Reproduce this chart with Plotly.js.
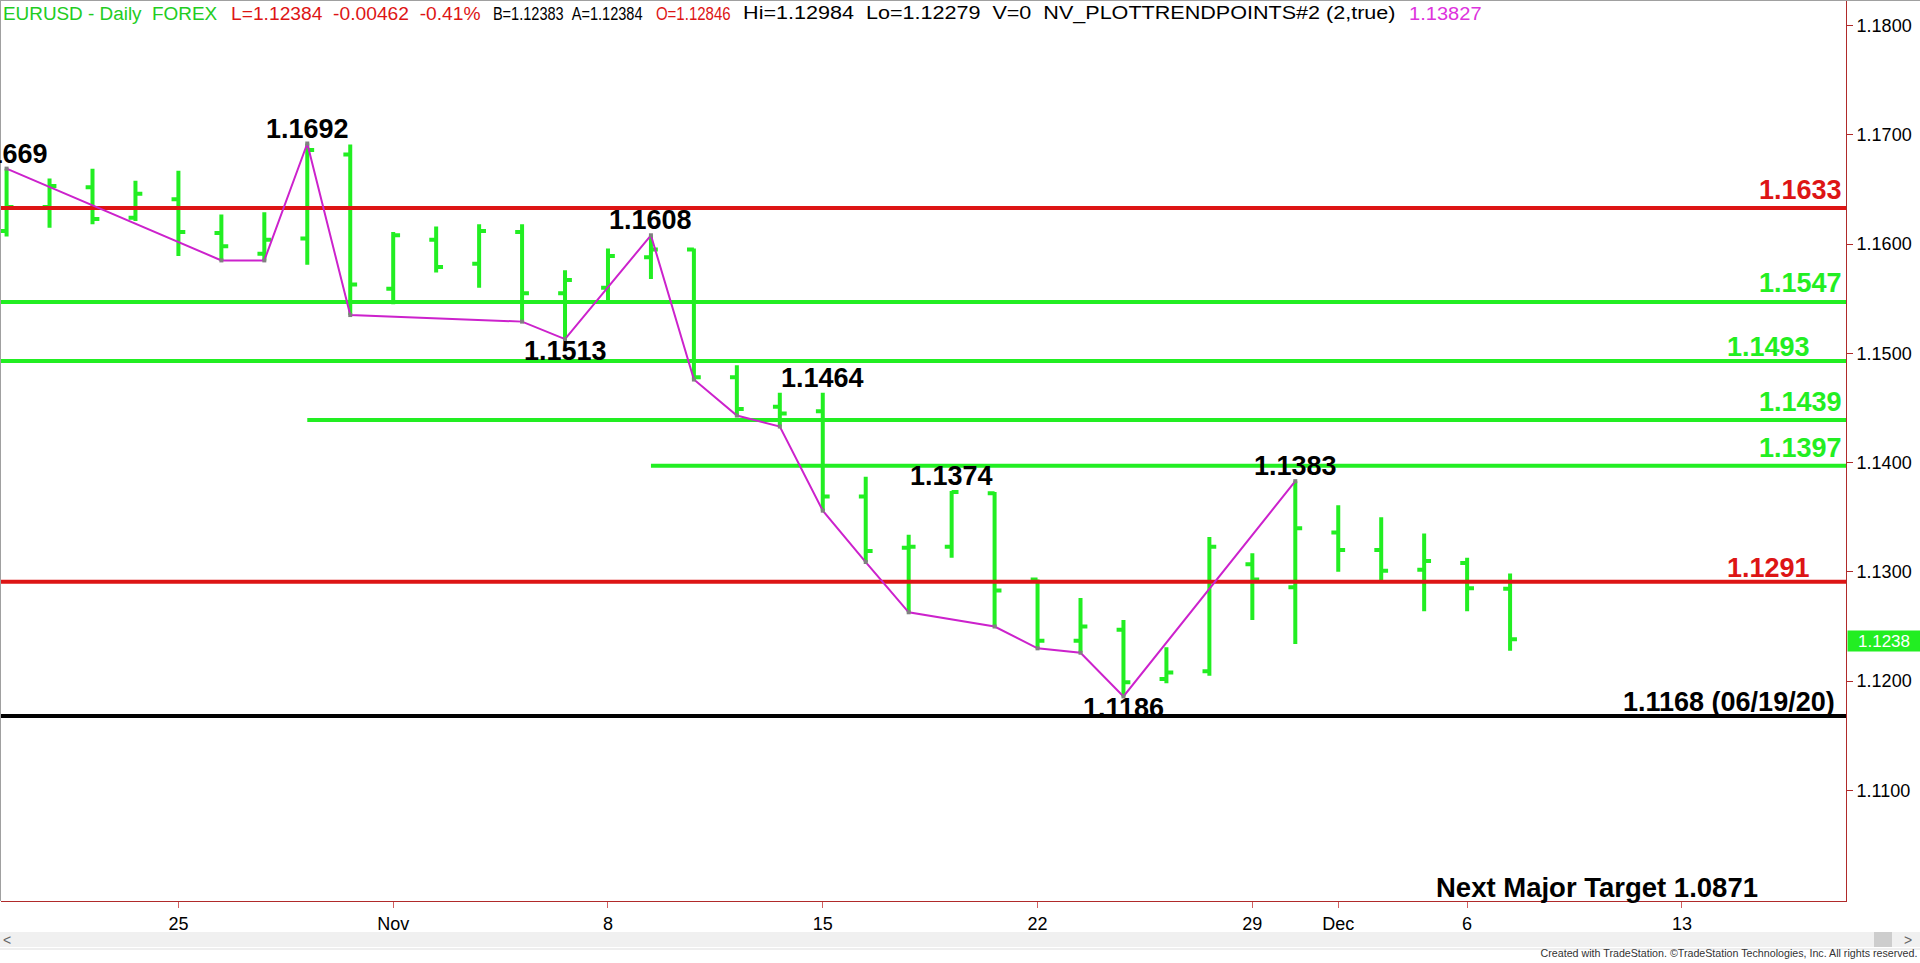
<!DOCTYPE html>
<html><head><meta charset="utf-8">
<script src="https://cdn.plot.ly/plotly-3.0.1.min.js"></script>
<style>html,body{margin:0;padding:0;background:#fff;overflow:hidden}#chart{width:1920px;height:963px}</style>
</head><body><div id="chart"></div>
<script>
// ---------------- DATA ----------------
const dates = ['2021-10-19','2021-10-20','2021-10-21','2021-10-22','2021-10-25','2021-10-26','2021-10-27','2021-10-28','2021-10-29',
  '2021-11-01','2021-11-02','2021-11-03','2021-11-04','2021-11-05','2021-11-08','2021-11-09','2021-11-10','2021-11-11','2021-11-12',
  '2021-11-15','2021-11-16','2021-11-17','2021-11-18','2021-11-19','2021-11-22','2021-11-23','2021-11-24','2021-11-25','2021-11-26',
  '2021-11-29','2021-11-30','2021-12-01','2021-12-02','2021-12-03','2021-12-06','2021-12-07'];
const opens  = [1.1612,1.1634,1.1652,1.1624,1.1641,1.1610,1.1591,1.1605,1.1682,
  1.1559,1.1604,1.1582,1.1611,1.1555,1.1560,1.1588,1.1595,1.1478,1.1451,
  1.1447,1.1369,1.1322,1.1323,1.1372,1.1293,1.1237,1.1247,1.1202,1.1209,
  1.1307,1.1286,1.1336,1.1320,1.1302,1.1308,1.12846];
const highs  = [1.1669,1.1660,1.1669,1.1658,1.1667,1.1627,1.1629,1.1692,1.1691,
  1.1611,1.1616,1.1618,1.1618,1.1576,1.1596,1.1608,1.1596,1.1489,1.1464,
  1.1464,1.1387,1.1334,1.1374,1.1373,1.1293,1.1276,1.1256,1.1231,1.1332,
  1.1317,1.1383,1.1361,1.1350,1.1335,1.1313,1.12984];
const lows   = [1.1607,1.1615,1.1618,1.1621,1.1589,1.1585,1.1585,1.1581,1.1535,
  1.1545,1.1574,1.1560,1.1529,1.1513,1.1548,1.1568,1.1476,1.1443,1.1433,
  1.1356,1.1309,1.1263,1.1313,1.1250,1.1230,1.1226,1.1186,1.1198,1.1205,
  1.1256,1.1234,1.1300,1.1291,1.1264,1.1264,1.12279];
const closes = [1.1634,1.1653,1.1623,1.1646,1.1611,1.1598,1.1604,1.1686,1.1563,
  1.1608,1.1579,1.1612,1.1555,1.1567,1.1589,1.1595,1.1478,1.1449,1.1445,
  1.1369,1.1319,1.1323,1.1373,1.1283,1.1237,1.1250,1.1199,1.1208,1.1323,
  1.1293,1.1340,1.1320,1.1301,1.1310,1.1285,1.12384];

const trendDates  = ['2021-10-19','2021-10-26','2021-10-27','2021-10-28','2021-10-29','2021-11-04','2021-11-05','2021-11-09',
  '2021-11-10','2021-11-11','2021-11-12','2021-11-15','2021-11-16','2021-11-17','2021-11-19','2021-11-22','2021-11-23','2021-11-24','2021-11-30'];
const trendValues = [1.1669,1.1585,1.1585,1.1692,1.1535,1.1529,1.1513,1.1608,
  1.1476,1.1443,1.1433,1.1356,1.1309,1.1263,1.1250,1.1230,1.1226,1.1186,1.1383];

const pivotDates  = ['2021-10-19','2021-10-28','2021-11-05','2021-11-09','2021-11-15','2021-11-18','2021-11-24','2021-11-30'];
const pivotValues = [1.1669,1.1692,1.1513,1.1608,1.1464,1.1374,1.1186,1.1383];
const pivotKinds  = ['high','high','low','high','high','high','low','high'];

const levelValues = [1.1633,1.1547,1.1493,1.1439,1.1397,1.1291,1.1168];
const levelStarts = [null,null,null,'2021-10-28','2021-11-09',null,null];
const levelTexts  = ['1.1633','1.1547','1.1493','1.1439','1.1397','1.1291','1.1168 (06/19/20)'];

const tickDates  = ['2021-10-25','2021-11-01','2021-11-08','2021-11-15','2021-11-22','2021-11-29','2021-12-01','2021-12-06','2021-12-13'];
const tickLabels = ['25','Nov','8','15','22','29','Dec','6','13'];
const yTickValues = [1.11,1.12,1.13,1.14,1.15,1.16,1.17,1.18];

const headerTexts = ['EURUSD - Daily  FOREX','L=1.12384  -0.00462  -0.41%','B=1.12383  A=1.12384','O=1.12846',
  'Hi=1.12984  Lo=1.12279  V=0  NV_PLOTTRENDPOINTS#2 (2,true)','1.13827'];
const targetText = 'Next Major Target 1.0871';
const footerText = 'Created with TradeStation. \u00a9TradeStation Technologies, Inc. All rights reserved.';

// ---------------- STYLE ----------------
const GREEN = '#22ee22', RED = '#dd1515', MAGENTA = '#cc22cc', AXIS = '#b02a2a';
const FONT = '"Liberation Sans", Arial, sans-serif';
const levelColors = [RED, GREEN, GREEN, GREEN, GREEN, RED, '#000000'];
const levelLabelXShift = [-2,-2,-34,-2,-2,-34,-9];
const levelLabelYShift = [18,19,14,18,18,14,14];
const headerColors = ['#22cc22', RED, '#000000', RED, '#000000', '#dd33dd'];
const headerX = [2, 230, 492, 655, 742, 1408];     // page px start of each header segment
const headerW = [216, 251, 151, 76, 654, 74];      // page px width of each header segment

const W = 1920, H = 963, ML = 1, MR = 74, MT = 1, MB = 62;
const PW = W - ML - MR, PH = H - MT - MB;
const xRange = [-0.13, 42.82];
const yRange = [1.09988, 1.18224];
const px = p => (p - ML) / PW;            // page x -> paper x
const py = p => (H - MB - p) / PH;        // page y -> paper y

const DAY = 86400000;
const t0 = Date.parse(dates[0] + 'T00:00:00Z');
function tradingIndex(d) {
  const t = Date.parse(d + 'T00:00:00Z');
  let n = 0;
  for (let s = t0 + DAY; s <= t; s += DAY) {
    const wd = new Date(s).getUTCDay();
    if (wd !== 0 && wd !== 6) n++;
  }
  return n;
}
const sp = s => s.replace(/  /g, ' \u00a0');

// ---------------- TRACES ----------------
const traces = [];
traces.push({
  type: 'ohlc', x: dates.map(tradingIndex), open: opens, high: highs, low: lows, close: closes,
  increasing: {line: {color: GREEN, width: 4}}, decreasing: {line: {color: GREEN, width: 4}},
  tickwidth: 0.16, hoverinfo: 'skip', showlegend: false
});
levelValues.forEach((v, i) => {
  const x0 = levelStarts[i] ? tradingIndex(levelStarts[i]) : xRange[0] - 1;
  traces.push({type: 'scatter', mode: 'lines', x: [x0, xRange[1] + 1], y: [v, v],
    line: {color: levelColors[i], width: 4}, hoverinfo: 'skip', showlegend: false});
});
traces.push({
  type: 'scatter', mode: 'lines+markers', x: trendDates.map(tradingIndex), y: trendValues,
  line: {color: MAGENTA, width: 2}, marker: {color: '#808080', size: 4, symbol: 'square'},
  hoverinfo: 'skip', showlegend: false
});

// ---------------- ANNOTATIONS ----------------
const annotations = [];
pivotDates.forEach((d, i) => {
  annotations.push({x: tradingIndex(d), y: pivotValues[i], xref: 'x', yref: 'y', showarrow: false,
    text: '<b>' + pivotValues[i].toFixed(4) + '</b>', xanchor: 'center', yanchor: 'middle',
    yshift: pivotKinds[i] === 'high' ? 15 : -12, font: {family: FONT, size: 27, color: '#000'}});
});
levelValues.forEach((v, i) => {
  annotations.push({x: 1, xref: 'paper', y: v, yref: 'y', showarrow: false, text: '<b>' + levelTexts[i] + '</b>',
    xanchor: 'right', yanchor: 'middle', xshift: levelLabelXShift[i], yshift: levelLabelYShift[i],
    font: {family: FONT, size: 27, color: levelColors[i]}});
});
annotations.push({x: px(1597), xref: 'paper', y: py(887.5), yref: 'paper', showarrow: false,
  text: '<b>' + targetText + '</b>', xanchor: 'center', yanchor: 'middle', font: {family: FONT, size: 27.5, color: '#000'}});
const headerIdx = [];
headerTexts.forEach((t, i) => {
  headerIdx.push(annotations.length);
  annotations.push({x: px(headerX[i]), xref: 'paper', y: py(13.5), yref: 'paper', showarrow: false,
    text: sp(t), xanchor: 'left', yanchor: 'middle', align: 'left', borderpad: 0,
    font: {family: FONT, size: 19, color: headerColors[i]}});
});
const last = closes[closes.length - 1];
annotations.push({x: 1, xref: 'paper', y: last, yref: 'y', showarrow: false, text: last.toFixed(4),
  xanchor: 'left', yanchor: 'middle', xshift: 1, yshift: -2, bgcolor: GREEN, width: 70, height: 18, borderpad: 1,
  font: {family: FONT, size: 17, color: '#ffffff'}});
const footerIdx = annotations.length;
annotations.push({x: px(1918), xref: 'paper', y: py(953), yref: 'paper', showarrow: false, text: footerText,
  xanchor: 'right', yanchor: 'middle', align: 'right', borderpad: 0, font: {family: FONT, size: 11, color: '#333'}});
annotations.push({x: px(7), xref: 'paper', y: py(939.5), yref: 'paper', showarrow: false, text: '<',
  xanchor: 'center', yanchor: 'middle', font: {family: FONT, size: 14, color: '#666'}});
annotations.push({x: px(1908), xref: 'paper', y: py(939.5), yref: 'paper', showarrow: false, text: '>',
  xanchor: 'center', yanchor: 'middle', font: {family: FONT, size: 14, color: '#666'}});

// ---------------- SHAPES ----------------
const shapes = [
  {type: 'rect', xref: 'paper', yref: 'paper', x0: px(0), x1: px(W), y0: py(947), y1: py(932), fillcolor: '#f0f0f0', line: {width: 0}},
  {type: 'rect', xref: 'paper', yref: 'paper', x0: px(1874), x1: px(1892), y0: py(947), y1: py(932), fillcolor: '#cdcdcd', line: {width: 0}},
  {type: 'line', xref: 'paper', yref: 'paper', x0: px(0), x1: px(W), y0: py(949), y1: py(949), line: {color: '#dddddd', width: 1}},
  {type: 'line', xref: 'paper', yref: 'paper', x0: px(0), x1: px(W), y0: py(0.5), y1: py(0.5), line: {color: '#a0a0a0', width: 1}},
  {type: 'line', xref: 'paper', yref: 'paper', x0: px(0.5), x1: px(0.5), y0: py(0), y1: py(901), line: {color: '#a0a0a0', width: 1}}
];

const layout = {
  width: W, height: H, margin: {l: ML, r: MR, t: MT, b: MB, pad: 0},
  paper_bgcolor: '#ffffff', plot_bgcolor: '#ffffff', showlegend: false, hovermode: false,
  xaxis: {type: 'linear', range: xRange, showgrid: false, zeroline: false, fixedrange: true,
    rangeslider: {visible: false},
    tickmode: 'array', tickvals: tickDates.map(tradingIndex), ticktext: tickLabels,
    ticks: 'outside', ticklen: 6, tickcolor: '#d06060', tickwidth: 1,
    showline: true, linecolor: AXIS, linewidth: 1,
    tickfont: {family: FONT, size: 18, color: '#000'}},
  yaxis: {side: 'right', range: yRange, showgrid: false, zeroline: false, fixedrange: true,
    tickmode: 'array', tickvals: yTickValues, tickformat: '.4f',
    ticks: 'outside', ticklen: 6, tickcolor: AXIS, tickwidth: 1,
    showline: true, linecolor: AXIS, linewidth: 1,
    tickfont: {family: FONT, size: 18, color: '#000'}},
  annotations: annotations, shapes: shapes
};

Plotly.newPlot('chart', traces, layout, {staticPlot: true, displayModeBar: false}).then(gd => {
  // condense header / footer annotations horizontally (like the narrow terminal font of the original),
  // keeping the left edge (header) or right edge (footer) fixed
  const squeeze = (idx, w, keepRight) => {
    const g = gd.querySelector('.annotation[data-index="' + idx + '"] .annotation-text-g');
    if (!g) return;
    const b = g.getBBox();
    if (!b.width) return;
    const k = w / b.width;
    const x0 = keepRight ? b.x + b.width : b.x;
    const prev = g.getAttribute('transform') || '';
    g.setAttribute('transform', prev + ' translate(' + x0 + ',0) scale(' + k + ',1) translate(' + (-x0) + ',0)');
  };
  headerIdx.forEach((idx, i) => squeeze(idx, headerW[i], false));
  squeeze(footerIdx, 378, true);
});
</script>
</body></html>
